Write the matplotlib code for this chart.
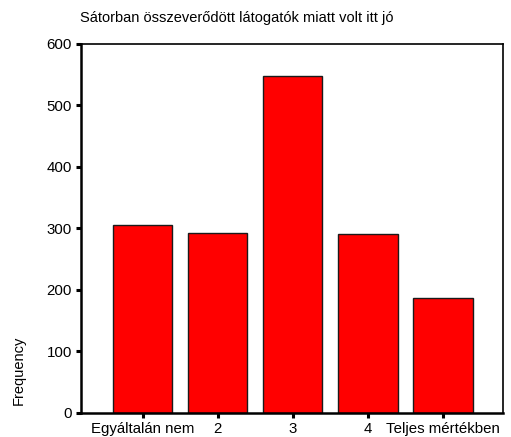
import matplotlib
matplotlib.use("Agg")
import matplotlib.pyplot as plt

# 数据
categories = ["Egyáltalán nem", "2", "3", "4", "Teljes mértékben"]
counts = [305, 293, 548, 291, 186]
yticks = [0, 100, 200, 300, 400, 500, 600]

plt.rcParams["font.family"] = ["Liberation Sans", "DejaVu Sans"]

fig = plt.figure(figsize=(5.11, 4.37), dpi=100)
ax = fig.add_axes([81 / 511, 24 / 437, 422 / 511, 369.5 / 437])

x = list(range(len(categories)))
ax.bar(x, counts, width=0.79, color="#ff0000", edgecolor="#1a1a1a", linewidth=1)

ax.set_xlim(-0.82, 4.8)
ax.set_ylim(0, 600)
ax.set_yticks(yticks)
ax.set_xticks(x)
ax.set_xticklabels(categories)

ax.tick_params(axis="both", direction="out", length=3.5, width=2.2, labelsize=10.8,
               colors="black", pad=3)
for side in ["left", "bottom"]:
    ax.spines[side].set_linewidth(1.8)
for side in ["top", "right"]:
    ax.spines[side].set_linewidth(1.2)

# 纵轴标题放在左下角
fig.text(19 / 511, 32 / 437, "Frequency", fontsize=10.5, rotation=90,
         ha="center", va="bottom")
fig.text(80 / 511, 1 - 18 / 437, "Sátorban összeverődött látogatók miatt volt itt jó",
         fontsize=10.5, ha="left", va="center")

plt.savefig("out.png", dpi=100)
